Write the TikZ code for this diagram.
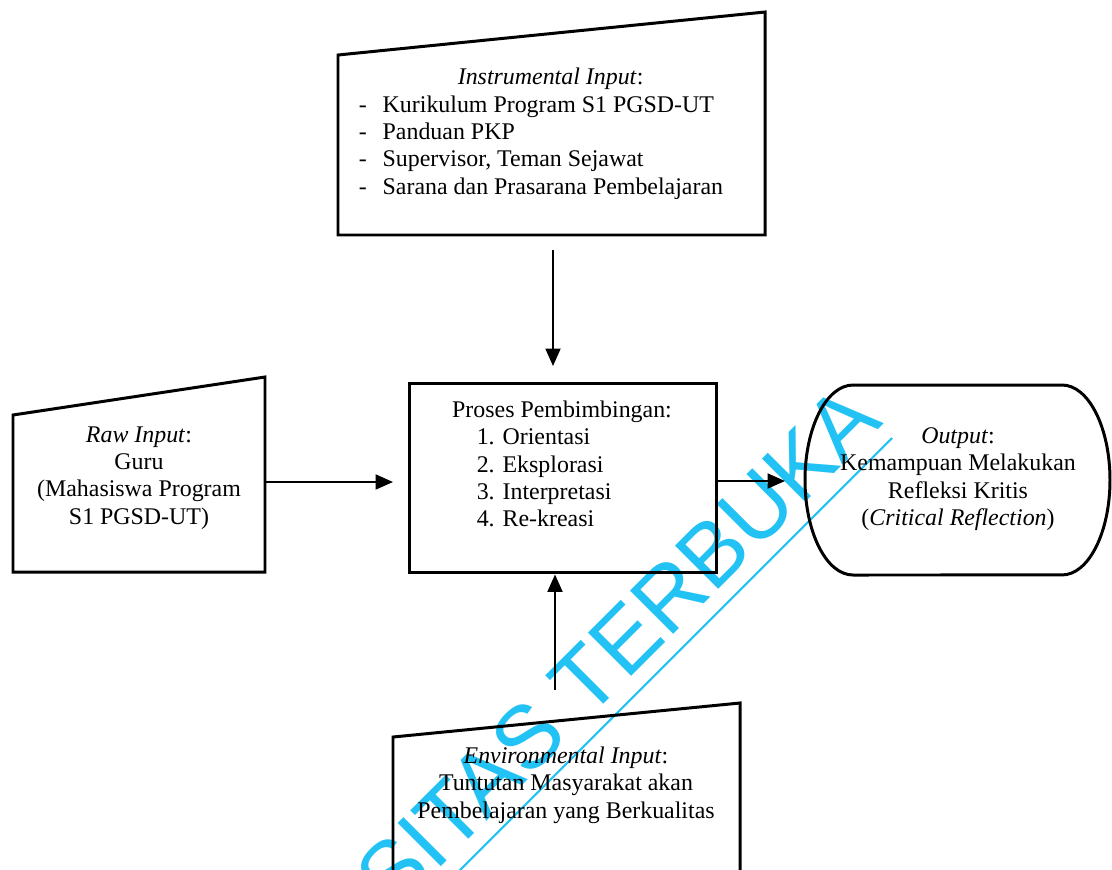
\documentclass[tikz,border=0pt]{standalone}
\usepackage{fontspec}
\setmainfont{Liberation Serif}
\newfontfamily\wmfont{Liberation Sans}
\usetikzlibrary{arrows.meta}
\usepackage{xcolor}
\definecolor{wmcyan}{HTML}{22C2F4}
\newcommand\boxfont{\fontsize{13.6}{15.6}\selectfont}

\begin{document}
\begin{tikzpicture}[x=0.02cm, y=-0.02cm,
  shp/.style = {line width=1.7pt, line join=miter},
  txt/.style = {font=\boxfont, align=center, inner sep=0pt},
  arr/.style = {-{Triangle[length=3.5mm, width=3mm]}, line width=1.2pt}
]
\useasboundingbox (0,0) rectangle (1112,869);
\clip (0,0) rectangle (1112,869);
% watermark
\node[text=wmcyan, font=\wmfont\fontsize{50.6}{60}\selectfont, rotate=45,
      anchor=base east, inner sep=0pt] (wm) at (885,423) {UNIVERSITAS TERBUKA};
\coordinate (wmEnd) at (892,438);
\draw[wmcyan, line width=1.2pt] (wmEnd) -- ++(-500,500);
% instrumental input
\draw[shp] (338,55) -- (765,12) -- (765,235) -- (338,235) -- cycle;
\node[txt] (inst) at (541,134) {\begin{tabular}{@{}l@{\hspace{9pt}}l@{}}
  \multicolumn{2}{c}{\hspace*{11pt}\textit{Instrumental Input}:}\\
  - & Kurikulum Program S1 PGSD-UT\\
  - & Panduan PKP\\
  - & Supervisor, Teman Sejawat\\
  - & Sarana dan Prasarana Pembelajaran
\end{tabular}};
% raw input
\draw[shp] (13,415) -- (265,377) -- (265,572) -- (13,572) -- cycle;
\node[txt] (raw) at (139,478) {\textit{Raw Input}:\\Guru\\(Mahasiswa Program\\S1 PGSD-UT)};
% process
\node[shp, draw, rectangle, minimum width=6.16cm, minimum height=3.8cm,
      inner sep=0pt] (proc) at (563,478) {};
\node[txt, align=left] (procText) at (562,464) {Proses Pembimbingan:\\
  \hspace*{14pt}1. Orientasi\\
  \hspace*{14pt}2. Eksplorasi\\
  \hspace*{14pt}3. Interpretasi\\
  \hspace*{14pt}4. Re-kreasi};
% output
\draw[shp] (853,385) -- (1062,385)
  arc[start angle=90, end angle=-90, x radius=0.96cm, y radius=1.9cm]
  -- (853,575)
  arc[start angle=270, end angle=90, x radius=0.96cm, y radius=1.9cm] -- cycle;
\node[txt] (out) at (958,479) {\textit{Output}:\\Kemampuan Melakukan\\Refleksi Kritis\\(\textit{Critical Reflection})};
% environmental input
\draw[shp] (393,737) -- (740,703) -- (740,900) -- (393,900) -- cycle;
\node[txt] (env) at (566,785) {\textit{Environmental Input}:\\Tuntutan Masyarakat akan\\Pembelajaran yang Berkualitas};
% connectors
\coordinate (instOut) at (553,250);
\coordinate (procTop) at (553,366);
\coordinate (rawOut) at (265,482);
\coordinate (procLeft) at (393,482);
\coordinate (outIn) at (785,481);
\coordinate (envOut) at (555,690);
\draw[arr] (instOut) -- (procTop);
\draw[arr] (rawOut) -- (procLeft);
\draw[arr] (proc.east |- outIn) -- (outIn);
\draw[arr] (envOut) -- (envOut |- proc.south);
\end{tikzpicture}
\end{document}
